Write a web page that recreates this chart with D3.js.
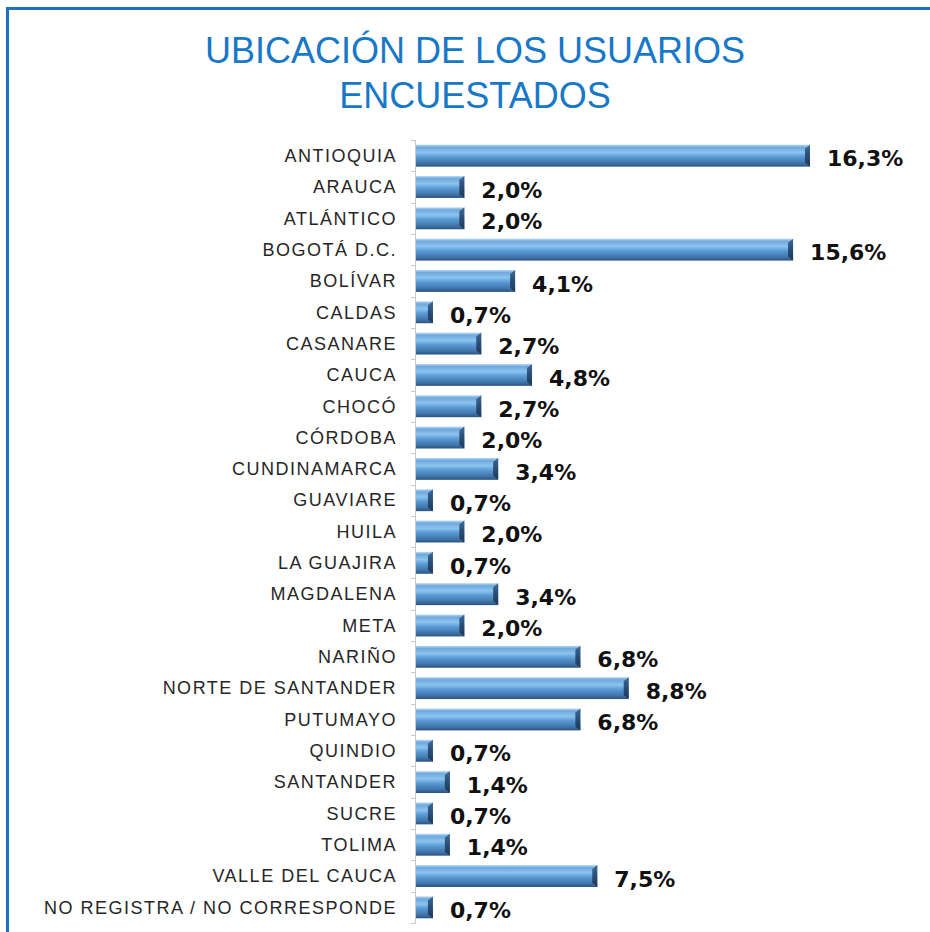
<!DOCTYPE html>
<html>
<head>
<meta charset="utf-8">
<script src="https://cdn.jsdelivr.net/npm/d3@7"></script>
<style>
  body { margin: 0; background: #fff; }
  svg { display: block; }
</style>
</head>
<body>
<svg id="chart"></svg>
<script>
// Datos del gráfico
const departamentos = ["ANTIOQUIA", "ARAUCA", "ATLÁNTICO", "BOGOTÁ D.C.", "BOLÍVAR", "CALDAS",
    "CASANARE", "CAUCA", "CHOCÓ", "CÓRDOBA", "CUNDINAMARCA", "GUAVIARE", "HUILA", "LA GUAJIRA",
    "MAGDALENA", "META", "NARIÑO", "NORTE DE SANTANDER", "PUTUMAYO", "QUINDIO", "SANTANDER",
    "SUCRE", "TOLIMA", "VALLE DEL CAUCA", "NO REGISTRA / NO CORRESPONDE"];
const porcentajes = [16.3, 2.0, 2.0, 15.6, 4.1, 0.7, 2.7, 4.8, 2.7, 2.0, 3.4, 0.7, 2.0, 0.7,
    3.4, 2.0, 6.8, 8.8, 6.8, 0.7, 1.4, 0.7, 1.4, 7.5, 0.7];
const tituloLineas = ["UBICACIÓN DE LOS USUARIOS", "ENCUESTADOS"];

const width = 930, height = 932;
const svg = d3.select("#chart").attr("width", width).attr("height", height);

const data = departamentos.map((d, i) => ({ name: d, value: porcentajes[i] }));

// Marco azul
svg.append("path")
    .attr("d", `M7.5,${height + 5} L7.5,8.5 L${width + 5},8.5`)
    .attr("fill", "none")
    .attr("stroke", "#1a73c0")
    .attr("stroke-width", 3);

// Título
svg.append("g").selectAll("text")
    .data(tituloLineas)
    .join("text")
    .attr("x", 475)
    .attr("y", (d, i) => 63 + i * 45)
    .attr("text-anchor", "middle")
    .attr("font-family", "'Liberation Sans', Arial, sans-serif")
    .attr("font-size", 36)
    .attr("fill", "#1878c8")
    .text(d => d);

// Escalas
const x = d3.scaleLinear()
    .domain([0, d3.max(porcentajes)])
    .range([416, 810]);

const y = d3.scaleBand()
    .domain(departamentos)
    .range([140, 923])
    .paddingInner(0.3)
    .paddingOuter(0.15);

// Degradado para el efecto 3D
const defs = svg.append("defs");
const grad = defs.append("linearGradient")
    .attr("id", "barGrad")
    .attr("x1", 0).attr("y1", 0).attr("x2", 0).attr("y2", 1);
[["0%", "#b9dbf7"], ["12%", "#6ea8dc"], ["35%", "#8cc4f0"], ["55%", "#5b9bd5"],
 ["85%", "#3f73a8"], ["100%", "#2b527c"]].forEach(s =>
    grad.append("stop").attr("offset", s[0]).attr("stop-color", s[1]));

const capGrad = defs.append("linearGradient")
    .attr("id", "capGrad")
    .attr("x1", 0).attr("y1", 0).attr("x2", 0).attr("y2", 1);
[["0%", "#3d6a98"], ["50%", "#2a4d75"], ["100%", "#1d3856"]].forEach(s =>
    capGrad.append("stop").attr("offset", s[0]).attr("stop-color", s[1]));

// Eje vertical con marcas en los límites de las bandas
const axis = svg.append("g");
const step = y.step();
const bordes = departamentos.map(d => y(d) - step * 0.15);
bordes.push(y(departamentos[departamentos.length - 1]) + y.bandwidth() + step * 0.15);

axis.append("line")
    .attr("x1", 415.5).attr("x2", 415.5)
    .attr("y1", bordes[0]).attr("y2", bordes[bordes.length - 1])
    .attr("stroke", "#c8c8c8");
axis.selectAll("line.tick")
    .data(bordes)
    .join("line")
    .attr("class", "tick")
    .attr("x1", 411).attr("x2", 415.5)
    .attr("y1", d => Math.round(d) + 0.5).attr("y2", d => Math.round(d) + 0.5)
    .attr("stroke", "#c8c8c8");

// Barras
const bars = svg.append("g").selectAll("g")
    .data(data)
    .join("g");

bars.append("rect")
    .attr("x", x(0))
    .attr("y", d => y(d.name))
    .attr("width", d => x(d.value) - x(0))
    .attr("height", y.bandwidth())
    .attr("fill", "url(#barGrad)");

// Bisel del extremo derecho
bars.append("polygon")
    .attr("points", d => {
        const x1 = x(d.value), y0 = y(d.name), h = y.bandwidth();
        const w = Math.min(5, (x1 - x(0)) / 2);
        return `${x1 - w},${y0 + 4} ${x1},${y0} ${x1},${y0 + h} ${x1 - w},${y0 + h - 4}`;
    })
    .attr("fill", "url(#capGrad)");

// Etiquetas de categoría
bars.append("text")
    .attr("x", 397)
    .attr("y", d => y(d.name) + y.bandwidth() / 2)
    .attr("dy", "0.35em")
    .attr("text-anchor", "end")
    .attr("font-family", "'Liberation Sans', Arial, sans-serif")
    .attr("font-size", 18)
    .attr("letter-spacing", 1.5)
    .attr("fill", "#262626")
    .text(d => d.name);

// Etiquetas de valor
bars.append("text")
    .attr("x", d => x(d.value) + 17)
    .attr("y", d => y(d.name) + y.bandwidth() / 2 + 3)
    .attr("dy", "0.35em")
    .attr("font-family", "'DejaVu Sans', sans-serif")
    .attr("font-size", 22)
    .attr("font-weight", "bold")
    .attr("fill", "#111")
    .text(d => d.value.toFixed(1).replace(".", ",") + "%");
</script>
</body>
</html>
